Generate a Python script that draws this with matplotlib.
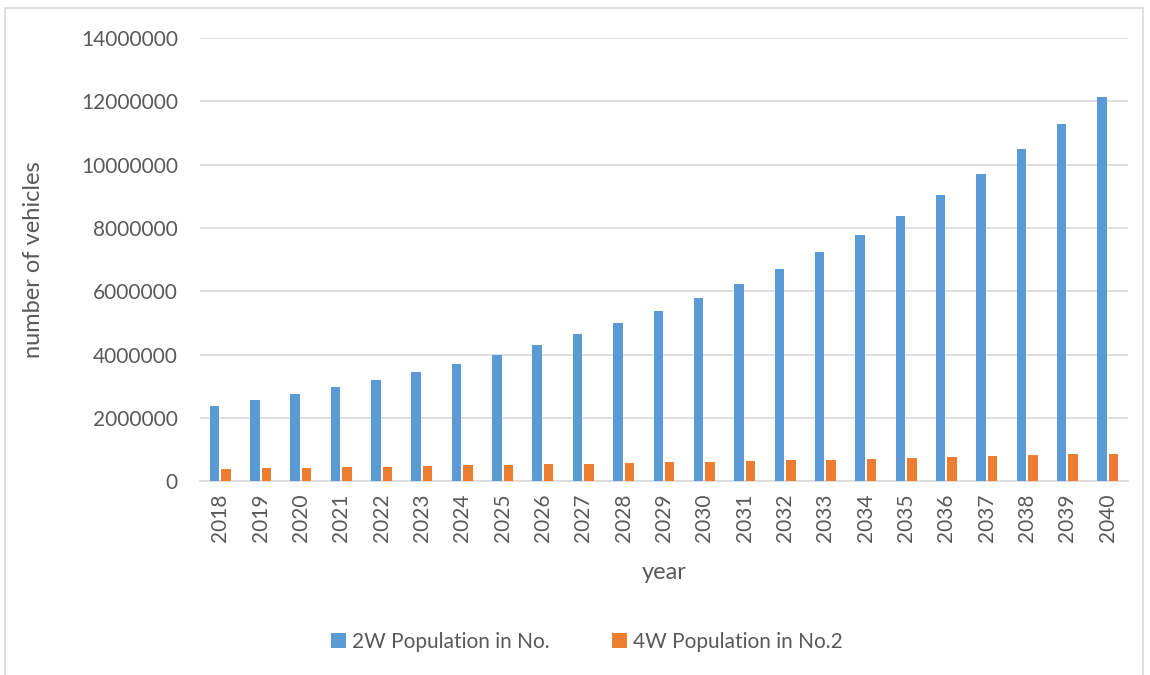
import numpy as np
import matplotlib.pyplot as plt
from matplotlib.patches import Rectangle

years = [str(y) for y in range(2018, 2041)]
pop_2w = [2380000, 2560000, 2760000, 2980000, 3190000, 3450000, 3710000, 3990000,
          4310000, 4640000, 4990000, 5380000, 5780000, 6230000, 6710000, 7230000,
          7780000, 8380000, 9040000, 9720000, 10480000, 11290000, 12150000]
pop_4w = [400000, 410000, 420000, 440000, 450000, 480000, 500000, 510000,
          540000, 550000, 580000, 600000, 610000, 630000, 670000, 680000,
          700000, 740000, 770000, 790000, 820000, 850000, 870000]
yticks = list(range(0, 14000001, 2000000))

text_col = '#595959'
grid_col = '#d9d9d9'
plt.rcParams['font.family'] = ['Lato', 'DejaVu Sans']

fig = plt.figure(figsize=(11.5, 6.75), dpi=100)
fig.patches.append(Rectangle((5 / 1150, -0.1), 1138 / 1150, 1.1 - 8 / 675,
                             transform=fig.transFigure, fill=False,
                             edgecolor=grid_col, linewidth=1.2))

ax = fig.add_axes([200 / 1150, 193.7 / 675, 928 / 1150, 443.3 / 675])
x = np.arange(len(years))
w = 0.235
ax.bar(x - w / 2 - 0.025, pop_2w, w, color='#5b9bd5', label='2W Population in No.', zorder=3)
ax.bar(x + w / 2 + 0.025, pop_4w, w, color='#ed7d31', label='4W Population in No.2', zorder=3)

ax.set_xlim(-0.5, len(years) - 0.5)
ax.set_ylim(0, 14000000)
ax.set_yticks(yticks)
ax.set_yticklabels([str(v) for v in yticks], fontsize=15, color=text_col)
ax.set_xticks(x)
ax.set_xticklabels(years, rotation=90, fontsize=15, color=text_col)
ax.tick_params(axis='both', length=0)
ax.tick_params(axis='y', pad=16)
ax.tick_params(axis='x', pad=9)
ax.grid(axis='y', color=grid_col, linewidth=1.2, zorder=0)
for s in ['top', 'right', 'left']:
    ax.spines[s].set_visible(False)
ax.spines['bottom'].set_color(grid_col)
ax.spines['bottom'].set_linewidth(1.2)

ax.set_xlabel('year', fontsize=17, color=text_col, labelpad=14)
ax.set_ylabel('number of vehicles', fontsize=17, color=text_col)
ax.yaxis.set_label_coords(-0.168, 0.5)

ax.legend(loc='center', bbox_to_anchor=(587 / 1150, 1 - 642 / 675), bbox_transform=fig.transFigure,
          ncol=2, frameon=False, fontsize=15, labelcolor=text_col,
          handlelength=0.7, handleheight=0.7, handletextpad=0.3, columnspacing=3)

fig.savefig('out.png', dpi=100)
